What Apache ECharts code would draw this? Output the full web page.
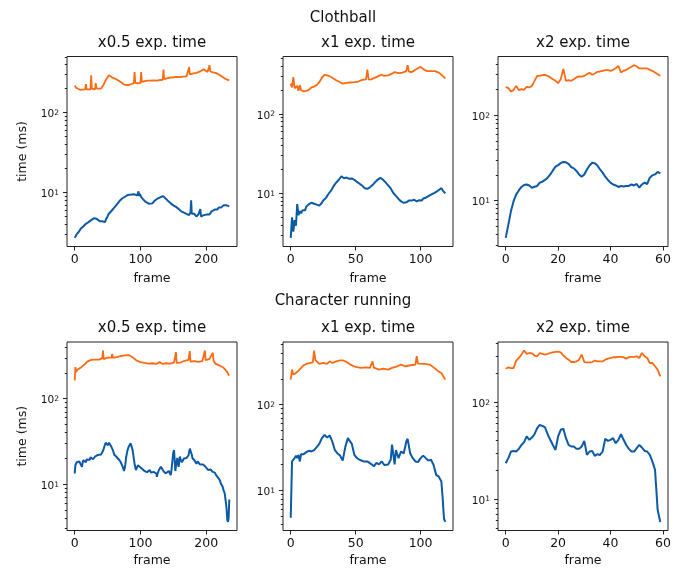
<!DOCTYPE html>
<html>
<head>
<meta charset="utf-8">
<script src="https://cdn.jsdelivr.net/npm/echarts@6/dist/echarts.min.js"></script>
<style>
html, body { margin: 0; padding: 0; background: #fff; }
#chart { width: 681px; height: 571px; }
</style>
</head>
<body>
<div id="chart"></div>
<script>
// Clothball, x0.5 exp. time  ([frame, ms])
const clothHalfUpper = [[0,218],[2,205],[5,196],[8,193],[12,194],[16,195],[17,228],[18,196],[21,192],[24,195],[25,294],[26,200],[29,192],[31,196],[32,234],[33,200],[36,192],[40,200],[44,225],[48,262],[52,294],[55,285],[59,270],[63,262],[67,250],[71,238],[75,224],[78,214],[82,220],[86,228],[90,234],[91,321],[92,235],[96,233],[100,236],[101,321],[102,242],[105,250],[110,252],[115,251],[120,254],[125,252],[130,256],[134,258],[135,347],[136,262],[140,268],[145,275],[150,277],[155,280],[160,278],[165,282],[170,285],[173,290],[174,371],[175,300],[180,310],[185,315],[190,325],[193,340],[196,350],[199,335],[202,322],[204,330],[205,393],[206,330],[210,318],[214,315],[218,305],[222,290],[226,275],[230,262],[235,254]];
const clothHalfLower = [[0,2.7],[1,2.8],[2,2.75],[3,3.0],[4,3.1],[5,2.95],[6,3.2],[7,3.35],[8,3.3],[9,3.5],[10,3.6],[11,3.45],[12,3.5],[13,3.75],[14,3.8],[15,3.65],[16,3.9],[17,4.05],[18,4.1],[19,3.9],[20,4.0],[21,4.25],[22,4.3],[23,4.15],[24,4.4],[25,4.5],[26,4.3],[27,4.45],[28,4.6],[29,4.75],[30,4.6],[32,4.55],[33,4.7],[35,4.45],[36,4.5],[38,4.35],[39,4.5],[41,4.3],[42,4.35],[44,4.2],[45,4.3],[46,4.25],[47,4.5],[48,4.7],[49,4.95],[50,5.0],[51,5.3],[53,5.5],[54,5.35],[56,5.9],[57,6.1],[59,6.3],[60,6.1],[62,6.6],[63,6.9],[65,7.2],[66,7.0],[68,7.8],[69,7.6],[71,8.0],[72,8.4],[74,8.5],[75,8.3],[77,8.9],[78,9.2],[80,9.0],[81,9.3],[83,9.2],[84,9.5],[86,9.4],[87,9.0],[89,9.1],[90,9.5],[92,9.5],[93,9.1],[95,9.2],[96,9.6],[97,10.3],[98,9.0],[99,9.6],[100,9.3],[101,8.8],[102,8.4],[104,8.2],[105,7.8],[107,7.9],[108,7.6],[110,7.5],[111,7.3],[113,7.2],[114,7.0],[115,7.3],[116,7.4],[118,7.3],[119,7.6],[121,7.8],[122,8.0],[124,8.1],[125,8.3],[127,8.5],[128,8.6],[130,8.7],[131,8.9],[133,8.8],[134,9.0],[136,8.8],[137,8.6],[139,8.3],[140,8.0],[142,7.8],[143,7.6],[145,7.5],[146,7.3],[148,7.1],[150,6.9],[152,6.8],[154,6.6],[156,6.3],[158,6.2],[160,6.0],[162,5.8],[164,5.7],[166,5.6],[168,5.5],[170,5.4],[172,5.3],[174,5.2],[176,5.6],[177,8.0],[178,5.4],[179,5.2],[181,5.1],[182,5.4],[184,5.3],[185,5.0],[187,5.0],[188,5.3],[190,5.4],[191,6.2],[192,5.0],[193,4.8],[195,4.9],[196,5.2],[198,5.2],[199,5.0],[201,5.3],[202,5.5],[204,5.5],[205,5.3],[207,5.6],[208,5.8],[210,5.9],[211,5.7],[213,6.1],[214,6.3],[216,6.3],[217,6.1],[219,6.5],[220,6.7],[222,6.8],[223,6.5],[225,6.6],[226,6.9],[228,7.0],[229,6.8],[231,6.9],[232,7.2],[233,7.2],[234,6.9],[235,6.7]];

// Clothball, x1 exp. time
const clothOneUpper = [[0,240],[1,215],[2,290],[3,210],[4,200],[5,225],[6,195],[7,230],[8,198],[10,192],[12,195],[14,200],[16,215],[18,220],[20,230],[22,250],[24,285],[26,310],[28,305],[30,297],[32,285],[35,265],[38,250],[40,240],[43,245],[46,248],[49,250],[52,255],[55,268],[58,272],[59,360],[60,270],[62,272],[65,285],[68,300],[70,310],[72,300],[75,305],[78,320],[80,335],[83,325],[86,330],[89,345],[90,410],[91,340],[93,335],[95,350],[98,375],[100,390],[102,365],[105,345],[108,345],[111,345],[114,330],[117,300],[119,280]];
const clothOneLower = [[0,2.75],[1,5.0],[2,3.3],[3,4.6],[4,3.9],[5,7.3],[6,5.3],[7,6.0],[8,5.6],[9,6.1],[10,6.3],[11,6.1],[12,6.8],[13,7.0],[14,7.3],[15,7.1],[16,7.6],[17,7.3],[18,7.4],[19,7.5],[20,7.2],[21,7.4],[22,7.0],[23,7.3],[24,7.6],[25,8.1],[26,8.4],[27,8.7],[28,9.0],[29,9.8],[30,10.3],[31,10.8],[32,11.5],[33,12.3],[34,12.8],[35,13.6],[36,14.2],[37,14.8],[38,15.4],[39,16.4],[40,16.2],[41,15.5],[42,14.9],[43,15.8],[44,15.6],[45,15.2],[46,15.0],[47,15.4],[48,14.6],[49,14.8],[50,14.2],[51,13.9],[52,13.5],[53,13.2],[54,12.8],[55,12.5],[56,12.0],[57,11.6],[58,11.1],[59,11.4],[60,11.5],[61,11.9],[62,12.3],[63,12.7],[64,13.2],[65,13.8],[66,14.3],[67,14.9],[68,15.2],[69,15.6],[70,15.5],[71,14.9],[72,14.2],[73,13.7],[74,13.0],[75,12.6],[76,12.0],[77,11.5],[78,10.8],[79,10.1],[80,9.7],[81,9.3],[82,8.9],[83,8.5],[84,8.2],[85,7.9],[86,7.8],[87,7.6],[88,7.5],[89,7.7],[90,7.9],[91,8.1],[92,8.3],[93,8.1],[94,8.0],[95,8.3],[96,8.4],[97,7.9],[98,7.5],[99,8.2],[100,8.3],[101,8.1],[102,8.6],[103,8.4],[104,8.8],[105,9.0],[106,9.2],[107,9.4],[108,9.6],[109,9.7],[110,10.0],[111,10.3],[112,10.4],[113,10.8],[114,11.0],[115,11.3],[116,11.6],[117,10.9],[118,10.6],[119,10.0]];

// Clothball, x2 exp. time (one value per frame)
const clothTwoUpper = [215,208,190,197,221,197,202,199,215,212,221,253,290,290,295,298,290,278,265,253,238,265,348,253,258,253,265,278,285,283,290,303,315,298,309,323,326,332,338,338,332,341,356,380,317,332,341,356,370,387,373,354,354,354,354,341,332,317,303,290];
const clothTwoLower = [3.64,5.2,7.5,9.8,11.8,13.1,14.4,15.2,15.4,15.0,14.1,14.5,14.8,16.2,16.6,17.4,18.5,20.2,22.5,24.9,26.0,27.4,28.3,28.0,26.9,24.6,23.8,22.2,20.2,19.0,20.2,23.1,25.7,27.7,27.4,25.7,23.1,21.2,19.0,17.4,16.2,15.4,15.0,14.4,14.8,14.6,14.8,14.8,15.4,15.0,15.6,14.1,15.4,16.2,15.6,18.5,19.7,20.2,21.6,20.8];

// Character running, x0.5 exp. time
const runHalfUpper = [[0,164],[1,234],[2,205],[4,218],[7,222],[10,234],[13,245],[16,256],[19,272],[22,282],[25,285],[28,288],[31,286],[34,283],[37,287],[40,292],[42,298],[43,366],[44,290],[47,285],[50,303],[53,300],[56,302],[57,335],[58,300],[61,303],[64,306],[67,310],[70,315],[73,318],[76,322],[79,326],[82,324],[85,318],[88,305],[91,292],[94,280],[97,272],[100,268],[103,263],[106,262],[109,263],[112,258],[115,256],[118,260],[121,258],[124,255],[127,258],[129,268],[130,258],[133,256],[136,258],[139,260],[142,256],[145,258],[148,262],[151,265],[153,268],[154,350],[155,262],[158,258],[161,265],[164,270],[167,278],[170,282],[173,285],[175,360],[176,272],[179,268],[182,275],[185,280],[188,270],[191,268],[194,275],[197,278],[198,366],[199,282],[202,288],[205,293],[208,300],[210,345],[211,280],[214,256],[217,252],[220,245],[223,238],[226,232],[229,224],[232,205],[234,190],[235,187]];
const runHalfLower = [[0,13.3],[1,16.6],[2,17.2],[3,18.0],[4,17.1],[5,17.6],[6,17.3],[7,18.4],[8,18.2],[9,17.0],[10,16.2],[11,15.9],[12,17.8],[13,19.0],[14,18.1],[15,18.4],[16,19.3],[17,18.0],[18,19.4],[20,20.2],[21,19.1],[23,19.2],[24,20.6],[26,20.2],[28,19.5],[30,19.9],[31,21.0],[33,20.8],[35,21.9],[36,21.3],[38,22.6],[40,22.2],[42,23.4],[43,24.5],[44,25.6],[45,27.3],[47,30.5],[48,31.2],[49,29.0],[50,28.5],[52,30.4],[53,29.8],[55,28.0],[56,28.6],[57,27.3],[58,25.0],[60,22.2],[61,22.8],[63,21.7],[64,20.6],[66,20.2],[68,19.0],[70,18.0],[71,17.2],[73,15.9],[74,15.0],[75,14.2],[76,15.4],[77,17.0],[78,20.2],[80,24.5],[82,27.3],[83,28.8],[85,30.0],[86,28.2],[88,25.0],[90,19.5],[91,17.3],[93,14.6],[94,15.2],[96,16.6],[97,17.2],[99,15.9],[101,15.4],[103,14.8],[104,15.6],[106,14.2],[108,14.6],[110,13.8],[112,14.4],[114,14.6],[116,13.6],[118,13.1],[120,13.9],[122,14.2],[124,13.3],[125,12.2],[126,13.2],[128,14.6],[130,15.2],[131,15.9],[133,15.0],[135,14.2],[137,14.6],[138,13.3],[140,13.9],[143,14.2],[145,13.6],[146,12.7],[147,14.4],[149,20.2],[150,23.5],[151,25.0],[152,19.0],[153,14.2],[154,16.5],[156,20.2],[157,17.4],[158,15.9],[159,18.5],[160,21.0],[161,19.4],[163,18.0],[165,18.6],[166,19.9],[168,19.2],[170,20.2],[172,20.9],[173,21.7],[174,23.8],[175,26.0],[176,25.5],[177,25.0],[178,22.0],[179,20.2],[181,19.6],[182,19.0],[184,18.1],[185,17.3],[187,18.4],[188,18.0],[190,17.1],[191,16.6],[193,17.4],[195,16.9],[197,16.4],[199,15.9],[201,15.3],[203,14.6],[205,15.2],[207,14.8],[209,14.0],[211,13.3],[213,13.6],[215,12.7],[217,12.3],[219,11.6],[221,10.9],[222,10.2],[224,9.7],[225,9.3],[226,8.6],[228,7.8],[230,6.0],[231,5.0],[232,3.8],[233,3.6],[234,4.0],[235,6.6]];

// Character running, x1 exp. time
const runOneUpper = [[0,196],[1,256],[2,224],[4,234],[6,249],[8,268],[10,288],[12,298],[15,306],[17,312],[18,427],[19,330],[20,320],[22,298],[25,306],[28,298],[30,320],[32,306],[35,320],[38,329],[40,329],[43,315],[46,293],[50,275],[54,268],[58,272],[61,268],[62,272],[63,320],[64,270],[65,263],[68,256],[71,263],[75,256],[78,268],[82,280],[85,293],[88,280],[92,288],[96,293],[97,367],[98,300],[99,293],[103,298],[107,293],[110,272],[113,249],[116,234],[119,196]];
const runOneLower = [[0,4.8],[1,21.8],[2,22.8],[3,23.8],[4,25.5],[5,23.8],[6,26.0],[7,21.8],[8,26.5],[10,26.5],[12,28.0],[14,29.0],[16,28.5],[18,29.5],[20,32.0],[22,35.0],[24,40.8],[26,44.5],[28,41.5],[30,43.7],[32,37.3],[34,29.5],[36,27.0],[38,25.5],[40,22.3],[42,32.0],[44,40.8],[45,41.5],[47,35.0],[49,26.0],[51,23.8],[53,22.8],[56,21.8],[59,21.8],[62,20.3],[64,19.1],[66,21.0],[68,20.1],[70,21.8],[72,19.8],[75,20.1],[77,22.8],[78,34.2],[80,20.1],[81,29.5],[83,23.8],[85,28.5],[87,27.0],[89,37.3],[90,40.0],[92,27.0],[94,23.8],[96,21.8],[98,21.4],[100,23.8],[102,25.5],[104,23.8],[106,22.3],[108,22.8],[110,19.8],[112,15.2],[114,14.5],[116,12.7],[117,8.1],[118,4.7],[119,4.3]];

// Character running, x2 exp. time (one value per frame)
const runTwoUpper = [221,228,224,224,268,285,309,340,314,321,318,302,297,321,314,309,314,321,326,329,331,326,304,285,274,259,259,263,274,309,259,257,257,259,268,263,263,263,274,281,285,290,290,292,292,290,281,290,292,292,297,285,321,297,285,253,253,234,216,184];
const runTwoLower = [23.4,26.4,30.9,31.3,30.9,32.9,36.1,38.6,44.2,40.8,43.1,46.6,53.8,58.2,56.8,54.7,46.6,40.8,36.1,32.1,44.2,51.8,53.0,42.4,36.1,34.8,34.8,32.9,32.9,34.8,39.8,28.5,30.9,31.3,27.9,29.0,28.5,30.9,41.8,39.8,40.8,42.4,37.6,40.8,46.6,40.8,36.1,32.9,30.9,30.9,33.4,36.1,34.0,31.3,30.9,28.5,24.3,20.0,7.7,5.8];

const rowTitles = ['Clothball', 'Character running'];
const colTitles = ['x0.5 exp. time', 'x1 exp. time', 'x2 exp. time'];
const xTickValues = [[0, 100, 200], [0, 50, 100], [0, 20, 40, 60]];

const UPPER_COLOR = '#ff6a10';
const LOWER_COLOR = '#0c5aa6';
const TEXT = '#111';
const FONT = 'DejaVu Sans';

const byFrame = arr => arr.map((v, i) => [i, v]);

const panels = [
    { row: 0, col: 0, upper: clothHalfUpper, lower: clothHalfLower },
    { row: 0, col: 1, upper: clothOneUpper, lower: clothOneLower },
    { row: 0, col: 2, upper: byFrame(clothTwoUpper), lower: byFrame(clothTwoLower) },
    { row: 1, col: 0, upper: runHalfUpper, lower: runHalfLower },
    { row: 1, col: 1, upper: runOneUpper, lower: runOneLower },
    { row: 1, col: 2, upper: byFrame(runTwoUpper), lower: byFrame(runTwoLower) }
];

// 布局 (像素)
const colLeft = [67, 283, 498];
const plotWidth = 170;
const rowTop = [56.5, 342];
const rowHeight = [190, 188.5];

const grid = [], xAxis = [], yAxis = [], series = [], title = [];

rowTitles.forEach((t, r) => {
    title.push({
        text: t, left: 343, top: r === 0 ? 10.5 : 293.5, textAlign: 'center', padding: 0,
        textStyle: { fontSize: 15, fontWeight: 'normal', color: TEXT, fontFamily: FONT }
    });
});

panels.forEach((p, i) => {
    grid.push({
        left: colLeft[p.col], top: rowTop[p.row], width: plotWidth, height: rowHeight[p.row],
        show: true, borderColor: '#222', borderWidth: 1, backgroundColor: 'transparent'
    });
    title.push({
        text: colTitles[p.col], left: colLeft[p.col] + plotWidth / 2,
        top: p.row === 0 ? 36 : 320.5, textAlign: 'center', padding: 0,
        textStyle: { fontSize: 15, fontWeight: 'normal', color: TEXT, fontFamily: FONT }
    });

    // x 轴: matplotlib 默认 5% 留白
    const lastFrame = Math.max(...p.upper.concat(p.lower).map(d => d[0]));
    const xPad = lastFrame * 0.05;
    xAxis.push({
        type: 'value', gridIndex: i, min: -xPad, max: lastFrame + xPad,
        splitLine: { show: false },
        axisLine: { show: false, onZero: false },
        axisTick: { customValues: xTickValues[p.col], length: 4, lineStyle: { color: '#222' } },
        axisLabel: {
            customValues: xTickValues[p.col], margin: 7,
            fontSize: 12.5, color: TEXT, fontFamily: FONT
        },
        name: 'frame', nameLocation: 'middle', nameGap: p.row === 0 ? 25.5 : 24,
        nameTextStyle: { fontSize: 12.5, color: TEXT, fontFamily: FONT }
    });

    // y 轴: 对数刻度, 留白也在对数空间里算
    const vals = p.upper.concat(p.lower).map(d => d[1]);
    const lo = Math.log10(Math.min(...vals));
    const hi = Math.log10(Math.max(...vals));
    const yPad = (hi - lo) * 0.05;
    const yMin = Math.pow(10, lo - yPad);
    const yMax = Math.pow(10, hi + yPad);
    const major = [], minor = [];
    for (let n = Math.floor(lo - yPad); n <= Math.ceil(hi + yPad); n++) {
        const base = Math.pow(10, n);
        if (base >= yMin && base <= yMax) major.push(base);
        for (let k = 2; k <= 9; k++) {
            if (k * base >= yMin && k * base <= yMax) minor.push(k * base);
        }
    }
    yAxis.push({
        type: 'log', logBase: 10, gridIndex: i, min: yMin, max: yMax, position: 'left',
        splitLine: { show: false },
        axisLine: { show: false, onZero: false },
        axisTick: { customValues: major, length: 4, lineStyle: { color: '#222' } },
        axisLabel: {
            customValues: major, margin: 8, padding: [4, 0, 0, 0],
            formatter: v => '{b|10}{s|' + Math.round(Math.log10(v)) + '}',
            rich: {
                b: { fontSize: 10.5, color: TEXT, fontFamily: FONT },
                s: { fontSize: 7.5, color: TEXT, fontFamily: FONT, verticalAlign: 'top', lineHeight: 8 }
            }
        },
        name: p.col === 0 ? 'time (ms)' : '', nameLocation: 'middle', nameGap: 38,
        nameTextStyle: { fontSize: 12.5, color: TEXT, fontFamily: FONT }
    });
    // 次刻度单独用一个轴画 (短一点, 无标签)
    yAxis.push({
        type: 'log', logBase: 10, gridIndex: i, min: yMin, max: yMax, position: 'left',
        splitLine: { show: false },
        axisLine: { show: false, onZero: false },
        axisTick: { customValues: minor, length: 2.2, lineStyle: { color: '#222' } },
        axisLabel: { show: false }
    });

    series.push({
        type: 'line', xAxisIndex: i, yAxisIndex: 2 * i, data: p.lower,
        showSymbol: false, lineStyle: { color: LOWER_COLOR, width: 2 }, itemStyle: { color: LOWER_COLOR }
    });
    series.push({
        type: 'line', xAxisIndex: i, yAxisIndex: 2 * i, data: p.upper,
        showSymbol: false, lineStyle: { color: UPPER_COLOR, width: 1.8 }, itemStyle: { color: UPPER_COLOR }
    });
});

const chart = echarts.init(document.getElementById('chart'));
chart.setOption({
    animation: false,
    backgroundColor: '#fff',
    title, grid, xAxis, yAxis, series
});
</script>
</body>
</html>
